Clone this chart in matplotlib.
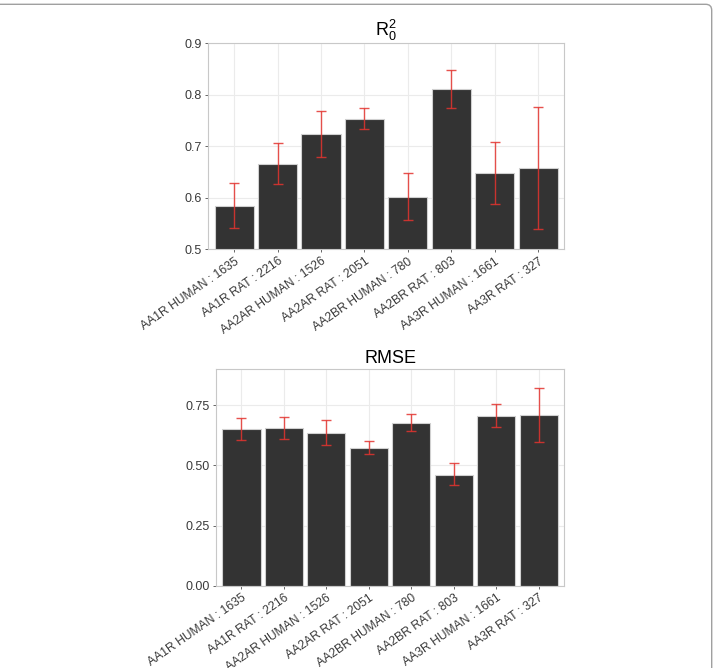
import matplotlib
matplotlib.use("Agg")
import matplotlib.pyplot as plt
import numpy as np
from matplotlib.patches import FancyBboxPatch
from matplotlib.transforms import IdentityTransform

plt.rcParams["font.family"] = ["Liberation Sans", "DejaVu Sans"]
plt.rcParams["mathtext.fontset"] = "custom"
plt.rcParams["mathtext.rm"] = "Liberation Sans"
plt.rcParams["mathtext.it"] = "Liberation Sans"

LABELS = [
    "AA1R HUMAN : 1635", "AA1R RAT : 2216", "AA2AR HUMAN : 1526", "AA2AR RAT : 2051",
    "AA2BR HUMAN : 780", "AA2BR RAT : 803", "AA3R HUMAN : 1661", "AA3R RAT : 327",
]

r2_mean = [0.584, 0.666, 0.723, 0.753, 0.602, 0.811, 0.648, 0.657]
r2_low = [0.541, 0.626, 0.680, 0.733, 0.557, 0.774, 0.587, 0.539]
r2_high = [0.628, 0.706, 0.768, 0.774, 0.648, 0.848, 0.708, 0.776]

rmse_mean = [0.649, 0.656, 0.635, 0.574, 0.677, 0.462, 0.704, 0.707]
rmse_low = [0.605, 0.610, 0.585, 0.549, 0.642, 0.419, 0.657, 0.595]
rmse_high = [0.696, 0.702, 0.686, 0.603, 0.711, 0.508, 0.756, 0.822]

BAR_COLOR = "#333333"
ERR_COLOR = "#e3342f"
GRID_COLOR = "#ebebeb"
BORDER_COLOR = "#c8c8c8"
TEXT_COLOR = "#4d4d4d"


def draw_panel(ax, mean, low, high, title, ylim, yticks, yticklabels):
    x = np.arange(len(LABELS))
    mean = np.array(mean)
    yerr = [mean - np.array(low), np.array(high) - mean]
    ax.bar(x, mean, width=0.9, color=BAR_COLOR, edgecolor="#d0d0d0", linewidth=0.8, zorder=2)
    ax.errorbar(x, mean, yerr=yerr, fmt="none", ecolor=ERR_COLOR, elinewidth=1.0,
                capsize=3.3, capthick=1.0, alpha=0.85, zorder=3)
    ax.set_xlim(-0.6, len(LABELS) - 0.4)
    ax.set_ylim(*ylim)
    ax.set_yticks(yticks)
    ax.set_yticklabels(yticklabels)
    ax.set_xticks(x)
    ax.set_xticklabels(LABELS, rotation=35, ha="right", va="top", rotation_mode="anchor")
    ax.grid(True, color=GRID_COLOR, linewidth=0.8, zorder=0)
    ax.set_axisbelow(True)
    for spine in ax.spines.values():
        spine.set_color(BORDER_COLOR)
        spine.set_linewidth(0.8)
    ax.tick_params(axis="both", colors=TEXT_COLOR, labelcolor="#3a3a3a", labelsize=8.7,
                   length=2.5, width=0.6, pad=2)
    ax.tick_params(axis="y", labelsize=9)
    ax.set_title(title, fontsize=13, color="black", pad=4)


fig = plt.figure(figsize=(7.15, 6.68), dpi=100)

ax1 = fig.add_axes([0.291, 0.627, 0.498, 0.308])
draw_panel(ax1, r2_mean, r2_low, r2_high, r"$\mathregular{R_0^2}$",
           (0.5, 0.9), [0.5, 0.6, 0.7, 0.8, 0.9], ["0.5", "0.6", "0.7", "0.8", "0.9"])

ax2 = fig.add_axes([0.302, 0.1228, 0.487, 0.325])
draw_panel(ax2, rmse_mean, rmse_low, rmse_high, "RMSE",
           (0.0, 0.9), [0.0, 0.25, 0.5, 0.75], ["0.00", "0.25", "0.50", "0.75"])

# page frame (top and right edges visible)
frame = FancyBboxPatch((-20, -20), 731.7, 683.7, boxstyle="round,pad=0,rounding_size=6",
                       transform=IdentityTransform(), facecolor="none",
                       edgecolor="#a0a0a0", linewidth=1.0)
fig.patches.append(frame)

fig.savefig("out.png", dpi=100)
plt.close(fig)
